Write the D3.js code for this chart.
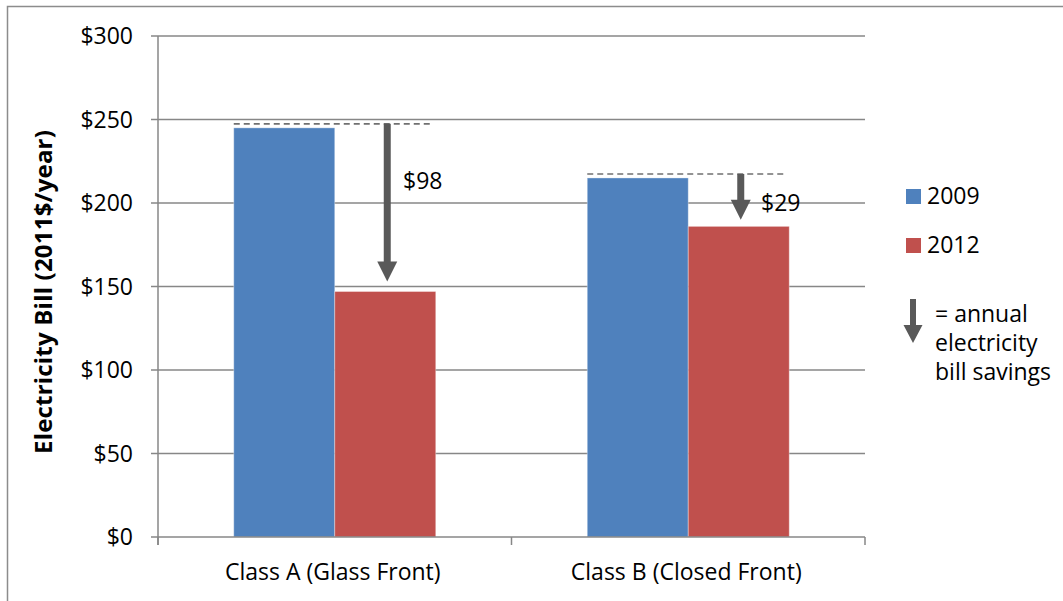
<!DOCTYPE html>
<html>
<head>
<meta charset="utf-8">
<script src="https://cdn.jsdelivr.net/npm/d3@7"></script>
<style>
  html, body { margin: 0; padding: 0; background: #fff; }
  svg { display: block; font-family: "Open Sans", "Noto Sans", sans-serif; }
</style>
</head>
<body>
<div id="chart"></div>
<script>
// --- data -------------------------------------------------------------------
const categories = ["Class A (Glass Front)", "Class B (Closed Front)"];
const series = ["2009", "2012"];
const values2009 = [245, 215];
const values2012 = [147, 186];
const savings = [98, 29];           // labelled on the arrows
const arrowTips = [153, 190];       // where each savings arrow ends ($)
const yTicks = [0, 50, 100, 150, 200, 250, 300];
const legendNote = ["= annual", "electricity", "bill savings"];

const COLORS = { "2009": "#4F81BD", "2012": "#C0504D" };
const GRID = "#878787";
const ARROW = "#595959";
const FS = "23px";

// --- canvas -----------------------------------------------------------------
const W = 1063, H = 601;
const plot = { left: 158, right: 865, top: 36, bottom: 537 };

const svg = d3.select("#chart").append("svg")
    .attr("width", W).attr("height", H);

// chart frame (only top + left edges fall inside the picture)
svg.append("rect")
    .attr("x", 7.5).attr("y", 6.5).attr("width", W + 20).attr("height", H + 20)
    .attr("fill", "none").attr("stroke", "#8c8c8c").attr("stroke-width", 1.5);

const y = d3.scaleLinear().domain([0, 300]).range([plot.bottom, plot.top]);
const x0 = d3.scaleBand().domain(categories).range([plot.left, plot.right]);
// gap width 150% -> outer padding of 0.75 bar on each side
const x1 = d3.scaleBand().domain(series).range([0, x0.bandwidth()])
    .paddingInner(0).paddingOuter(0.75);
const bw = x1.bandwidth();

// gridlines + left tick marks
const grid = svg.append("g");
grid.selectAll("line").data(yTicks.filter(d => d > 0)).join("line")
    .attr("x1", plot.left - 7).attr("x2", plot.right)
    .attr("y1", d => y(d)).attr("y2", d => y(d))
    .attr("stroke", GRID).attr("stroke-width", 1.5);

// tick labels
svg.append("g").selectAll("text").data(yTicks).join("text")
    .attr("x", 133).attr("y", d => y(d)).attr("dy", "0.36em")
    .attr("text-anchor", "end")
    .style("font-size", FS).attr("fill", "#000")
    .text(d => "$" + d);

// bars
const rows = categories.map((c, i) => ({ cat: c, i, "2009": values2009[i], "2012": values2012[i] }));
const groups = svg.append("g").selectAll("g").data(rows).join("g")
    .attr("transform", d => `translate(${x0(d.cat)},0)`);
groups.selectAll("rect").data(d => series.map(s => ({ s, v: d[s] }))).join("rect")
    .attr("x", d => x1(d.s)).attr("width", bw)
    .attr("y", d => y(d.v)).attr("height", d => y(0) - y(d.v))
    .attr("fill", d => COLORS[d.s])
    .attr("stroke", "#fff").attr("stroke-opacity", 0.35).attr("stroke-width", 1);

// axes lines
svg.append("line")
    .attr("x1", plot.left).attr("x2", plot.left)
    .attr("y1", plot.top).attr("y2", plot.bottom + 8)
    .attr("stroke", GRID).attr("stroke-width", 1.5);
svg.append("line")
    .attr("x1", plot.left - 7).attr("x2", plot.right)
    .attr("y1", plot.bottom).attr("y2", plot.bottom)
    .attr("stroke", GRID).attr("stroke-width", 1.5);
const xTickPos = [plot.left, ...categories.slice(1).map(c => x0(c)), plot.right];
svg.append("g").selectAll("line").data(xTickPos).join("line")
    .attr("x1", d => d).attr("x2", d => d)
    .attr("y1", plot.bottom).attr("y2", plot.bottom + 8)
    .attr("stroke", GRID).attr("stroke-width", 1.5);

// category labels
svg.append("g").selectAll("text").data(categories).join("text")
    .attr("x", d => x0(d) + x0.bandwidth() / 2 - 2).attr("y", 580)
    .attr("text-anchor", "middle")
    .style("font-size", FS).attr("fill", "#000")
    .text(d => d);

// y-axis title
svg.append("text")
    .attr("transform", `translate(52,292) rotate(-90)`)
    .attr("text-anchor", "middle")
    .style("font-size", "24px").style("font-weight", "bold")
    .style("letter-spacing", "0.2px")
    .text("Electricity Bill (2011$/year)");

// arrow helper: vertical down arrow from ya to tip yb at xc
function downArrow(g, xc, ya, yb, shaft, headW, headH) {
    const p = d3.path();
    p.moveTo(xc - shaft / 2, ya);
    p.lineTo(xc + shaft / 2, ya);
    p.lineTo(xc + shaft / 2, yb - headH);
    p.lineTo(xc + headW / 2, yb - headH);
    p.lineTo(xc, yb);
    p.lineTo(xc - headW / 2, yb - headH);
    p.lineTo(xc - shaft / 2, yb - headH);
    p.closePath();
    g.append("path").attr("d", p.toString()).attr("fill", ARROW);
}

// savings annotations
const ann = svg.append("g");
rows.forEach((d, i) => {
    const gx = x0(d.cat);
    const topY = y(values2009[i]) - 4;
    ann.append("line")
        .attr("x1", gx + x1("2009")).attr("x2", gx + x1("2012") + bw - 6)
        .attr("y1", topY).attr("y2", topY)
        .attr("stroke", "#707070").attr("stroke-width", 1.6)
        .attr("stroke-dasharray", "6,4");
    const ax = gx + x1("2012") + bw / 2 + 2;
    downArrow(ann, ax, topY, y(arrowTips[i]), 7, 20, 20);
});
ann.append("text").attr("x", 403).attr("y", 189)
    .style("font-size", FS).text("$" + savings[0]);
ann.append("text").attr("x", 761).attr("y", 211)
    .style("font-size", FS).text("$" + savings[1]);

// legend
const leg = svg.append("g");
series.forEach((s, i) => {
    leg.append("rect").attr("x", 906).attr("y", 189 + i * 49)
        .attr("width", 15).attr("height", 15).attr("fill", COLORS[s]);
    leg.append("text").attr("x", 927).attr("y", 204 + i * 49)
        .style("font-size", FS).text(s);
});
downArrow(leg, 913, 299, 343, 6, 19, 18);
leg.selectAll("text.note").data(legendNote).join("text")
    .attr("class", "note")
    .attr("x", 935).attr("y", (d, i) => 322 + i * 29)
    .style("font-size", FS).text(d => d);
</script>
</body>
</html>
